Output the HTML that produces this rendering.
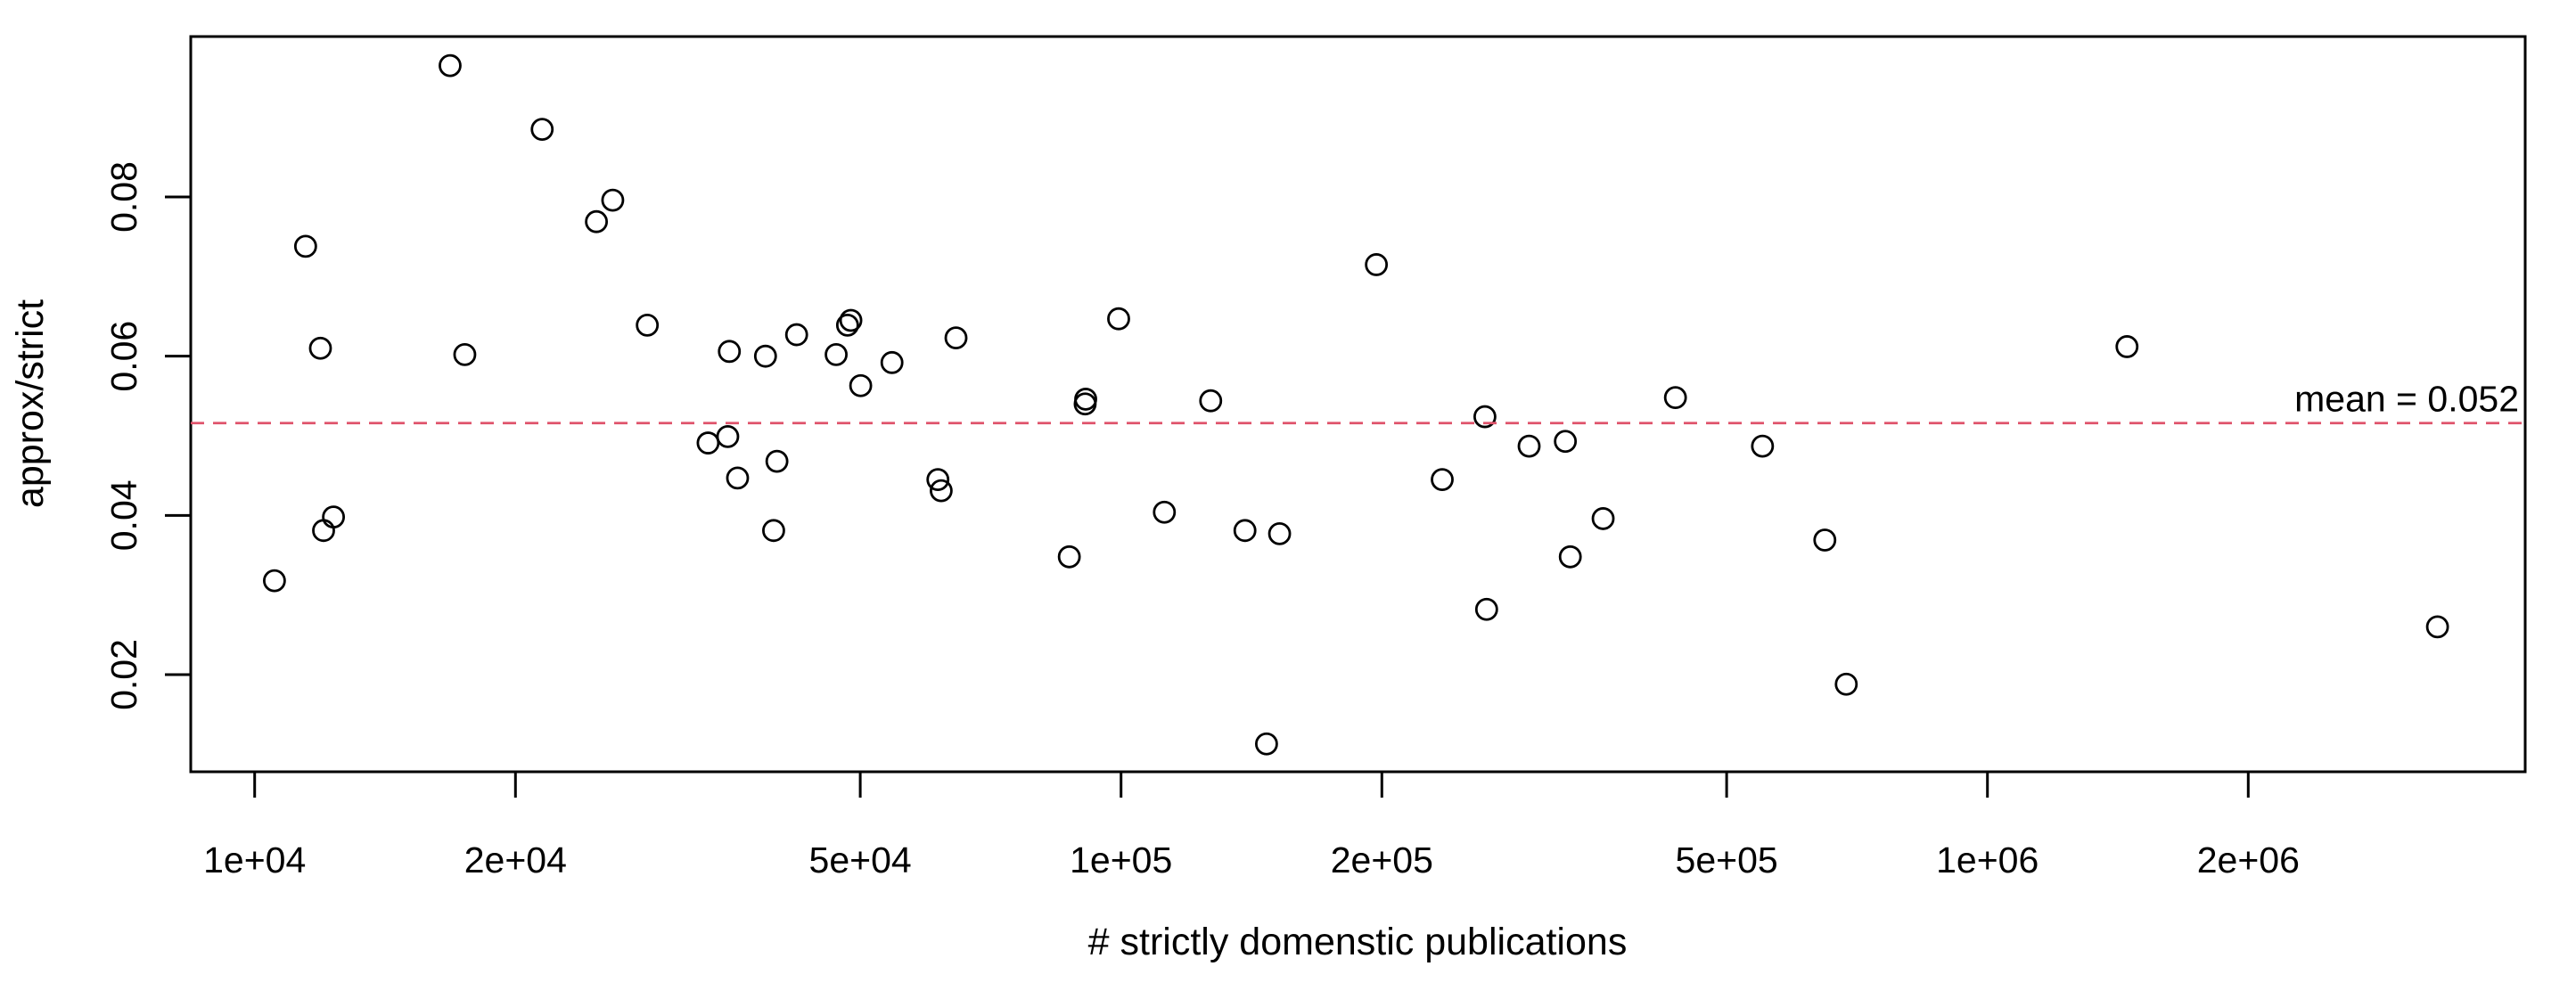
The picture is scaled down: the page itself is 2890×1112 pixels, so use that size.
<!DOCTYPE html>
<html><head><meta charset="utf-8"><style>
html,body{margin:0;padding:0;background:#fff;}
svg{display:block;font-family:"Liberation Sans",Arial,sans-serif;}
</style></head><body>
<svg id="chart" width="2890" height="1112" viewBox="0 0 2890 1112" xmlns="http://www.w3.org/2000/svg">
<rect x="0" y="0" width="2890" height="1112" fill="#fff"/>
<rect x="214" y="41" width="2619" height="825" fill="none" stroke="#000" stroke-width="3"/>
<g id="xaxis"></g>
<g id="yaxis"></g>
<g id="points"></g>
<g id="meang"></g>
<text x="1523" y="1071" font-size="43" text-anchor="middle"># strictly domenstic publications</text>
<text x="0" y="0" font-size="43" text-anchor="middle" transform="translate(48,453) rotate(-90)">approx/strict</text>
</svg>
<script>
const xValues = [1.054e4,1.145e4,1.191e4,1.201e4,1.233e4,1.681e4,1.748e4,2.147e4,2.480e4,2.590e4,2.839e4,3.337e4,3.516e4,3.531e4,3.609e4,3.887e4,3.972e4,4.007e4,4.222e4,4.690e4,4.834e4,4.877e4,5.006e4,5.440e4,6.146e4,6.200e4,6.449e4,8.715e4,9.103e4,9.090e4,9.936e4,1.122e5,1.269e5,1.390e5,1.472e5,1.524e5,1.971e5,2.348e5,2.630e5,2.642e5,2.958e5,3.257e5,3.300e5,3.601e5,4.364e5,5.500e5,6.491e5,6.871e5,1.449e6,3.307e6];
const yValues = [0.0318,0.0738,0.0610,0.0381,0.0398,0.0965,0.0602,0.0885,0.0769,0.0796,0.0639,0.0491,0.0499,0.0606,0.0447,0.0600,0.0381,0.0468,0.0627,0.0602,0.0639,0.0645,0.0563,0.0592,0.0445,0.0431,0.0623,0.0348,0.0546,0.0540,0.0647,0.0404,0.0544,0.0381,0.0113,0.0377,0.0715,0.0445,0.0524,0.0282,0.0487,0.0493,0.0348,0.0396,0.0548,0.0487,0.0369,0.0188,0.0612,0.0260];
const xTicks = [1e4,2e4,5e4,1e5,2e5,5e5,1e6,2e6];
const xTickLabels = ["1e+04","2e+04","5e+04","1e+05","2e+05","5e+05","1e+06","2e+06"];
const yTicks = [0.02,0.04,0.06,0.08];
const yTickLabels = ["0.02","0.04","0.06","0.08"];
const meanValue = 0.0516;
const meanLabel = "mean = 0.052";

const NS="http://www.w3.org/2000/svg";
function sx(v){return 285.7+972*Math.log10(v/1e4);}
function sy(v){return 757-(v-0.02)*8933;}
function mk(tag,attrs,parent){const e=document.createElementNS(NS,tag);for(const k in attrs)e.setAttribute(k,attrs[k]);parent.appendChild(e);return e;}

const xa=document.getElementById('xaxis');
xTicks.forEach((t,i)=>{
  const l=mk('line',{x1:sx(t),x2:sx(t),y1:866,y2:895,stroke:'#000','stroke-width':3},xa);
  
  
  const tx=mk('text',{x:sx(t),y:979,'font-size':41,'text-anchor':'middle'},xa);
  tx.textContent=xTickLabels[i];
  
  
});
const ya=document.getElementById('yaxis');
yTicks.forEach((t,i)=>{
  const l=mk('line',{x1:185,x2:214,y1:sy(t),y2:sy(t),stroke:'#000','stroke-width':3},ya);
  
  
  const tx=mk('text',{x:0,y:0,'font-size':41,'text-anchor':'middle',transform:`translate(153,${sy(t)}) rotate(-90)`},ya);
  tx.textContent=yTickLabels[i];
  
  
});
const pg=document.getElementById('points');
xValues.forEach((x,i)=>{
  const c=mk('circle',{cx:sx(x),cy:sy(yValues[i]),r:11.5,fill:'none',stroke:'#000','stroke-width':2.8},pg);
  
  
});
const mg=document.getElementById('meang');
const ml=mk('line',{x1:214,x2:2833,y1:sy(meanValue),y2:sy(meanValue),stroke:'#DF536B','stroke-width':2.8,'stroke-dasharray':'15 10'},mg);


const mt=mk('text',{x:2826,y:sy(meanValue)-13,'font-size':41,'text-anchor':'end'},mg);
mt.textContent=meanLabel;


</script>
</body></html>
